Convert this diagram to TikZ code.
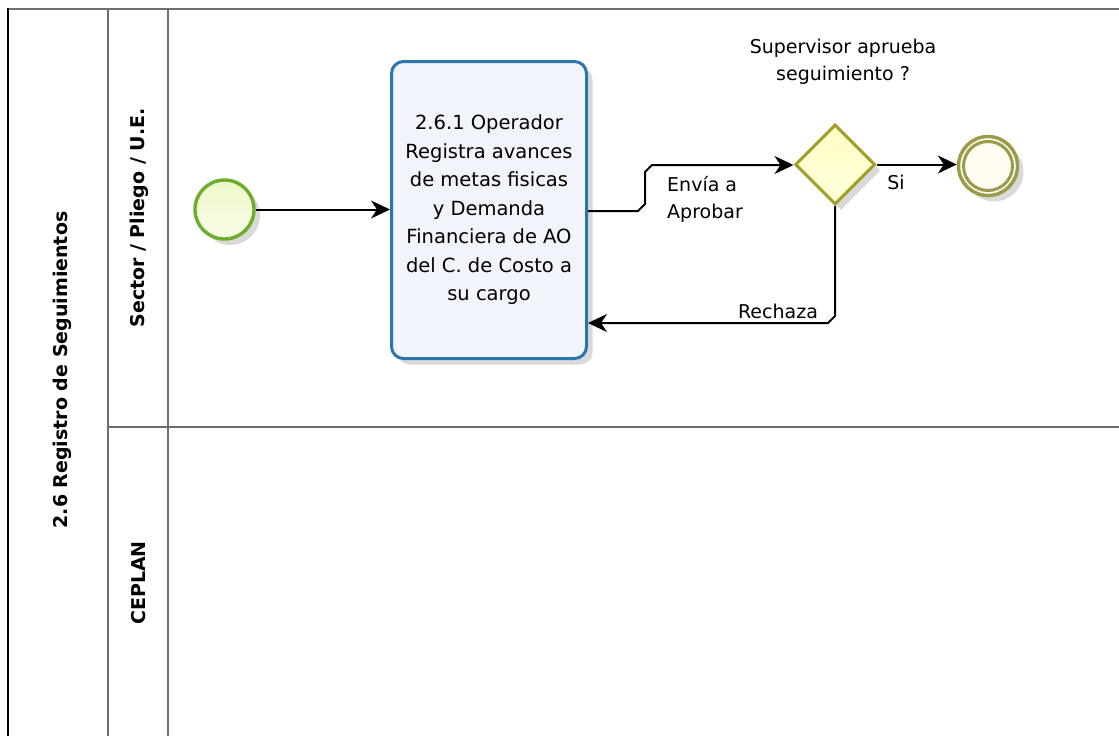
\documentclass[tikz,border=0pt]{standalone}
\usepackage{fontspec}
\setmainfont{DejaVu Sans}
\usetikzlibrary{arrows.meta,shapes.geometric,shadows,calc}
\definecolor{startgreen}{HTML}{6CAE2C}
\definecolor{startfill}{HTML}{EEF8C8}
\definecolor{taskblue}{HTML}{2C74AC}
\definecolor{taskfill}{HTML}{F2F4FC}
\definecolor{olive}{HTML}{A0A028}
\definecolor{gwfill}{HTML}{FFFFC8}
\definecolor{endolive}{HTML}{9A9A4A}
\definecolor{endfill}{HTML}{FFFCF2}
\definecolor{poolgray}{HTML}{6E6E6E}
\tikzset{
  lbl/.style={font=\fontsize{19}{27}\selectfont, inner sep=0pt, text=black},
  arr/.style={draw=black, line width=2pt, -{Stealth[length=19pt,width=18pt,inset=6pt]}},
  poolline/.style={draw=poolgray, line width=2.4pt},
  headlbl/.style={font=\bfseries\fontsize{19}{22}\selectfont, rotate=90, inner sep=0pt},
  shade/.style={drop shadow={shadow xshift=6pt, shadow yshift=-6pt, opacity=0.15, fill=black}},
}
\begin{document}
\begin{tikzpicture}[x=1pt,y=-1pt]
\useasboundingbox (0,0) rectangle (1119,736);
\fill[white] (0,0) rectangle (1119,736);
% pool and lanes
\draw[poolline] (8,9) -- (1119,9);
\draw[poolline] (108,9) -- (108,736);
\draw[poolline] (168,9) -- (168,736);
\draw[poolline] (108,427) -- (1119,427);
\draw[draw=black, line width=2.8pt] (8,8) -- (8,736);
\node[headlbl] (pool) at (62,370) {2.6 Registro de Seguimientos};
\node[headlbl] (lane1) at (139,218) {Sector / Pliego / U.E.};
\node[headlbl] (lane2) at (139,583) {CEPLAN};
% start event
\node[circle, minimum size=59pt, inner sep=0pt, draw=startgreen, line width=3.4pt, top color=startfill, bottom color=white!60!startfill, shade] (start) at (224.5,209.5) {};
% task
\node[rounded corners=12pt, draw=taskblue, line width=3pt, fill=taskfill, minimum width=195pt, minimum height=297pt, align=center, font=\fontsize{19.5}{28.5}\selectfont, inner sep=0pt, shade] (task) at (489,210) {2.6.1 Operador\\Registra avances\\de metas fisicas\\y Demanda\\Financiera de AO\\del C. de Costo a\\su cargo};
% gateway
\node[diamond, minimum width=80pt, minimum height=80pt, inner sep=0pt, draw=olive, line width=3pt, top color=gwfill, bottom color=gwfill!70!white, shade] (gw) at (835,164.5) {};
% end event
\node[circle, minimum size=59pt, inner sep=0pt, draw=endolive, line width=3.4pt, fill=endfill, shade] (end) at (988,166) {};
\draw[endolive, line width=3pt] (end.center) circle (24.5pt);
% connectors
\draw[arr] (start.east) -- (start.east -| task.west);
\coordinate (c1) at (638,211);
\coordinate (c2) at (645,204);
\coordinate (c3) at (645,172);
\coordinate (c4) at (652,165);
\draw[arr] (task.east |- c1) -- (c1) -- (c2) -- (c3) -- (c4) -- (c4 -| gw.west);
\draw[arr] (gw.east) -- (gw.east -| end.west);
\coordinate (r1) at (835,316);
\coordinate (r2) at (828,323);
\draw[arr] (gw.south) -- (r1) -- (r2) -- (r2 -| task.east);
% labels
\node[lbl, anchor=north west, align=left] (l1) at (667,176) {Envía a\\Aprobar};
\node[lbl] (l2) at (896,182) {Si};
\node[lbl] (l3) at (778,311) {Rechaza};
\node[lbl, align=center] (l4) at (843,62) {Supervisor aprueba\\seguimiento ?};
\end{tikzpicture}
\end{document}
